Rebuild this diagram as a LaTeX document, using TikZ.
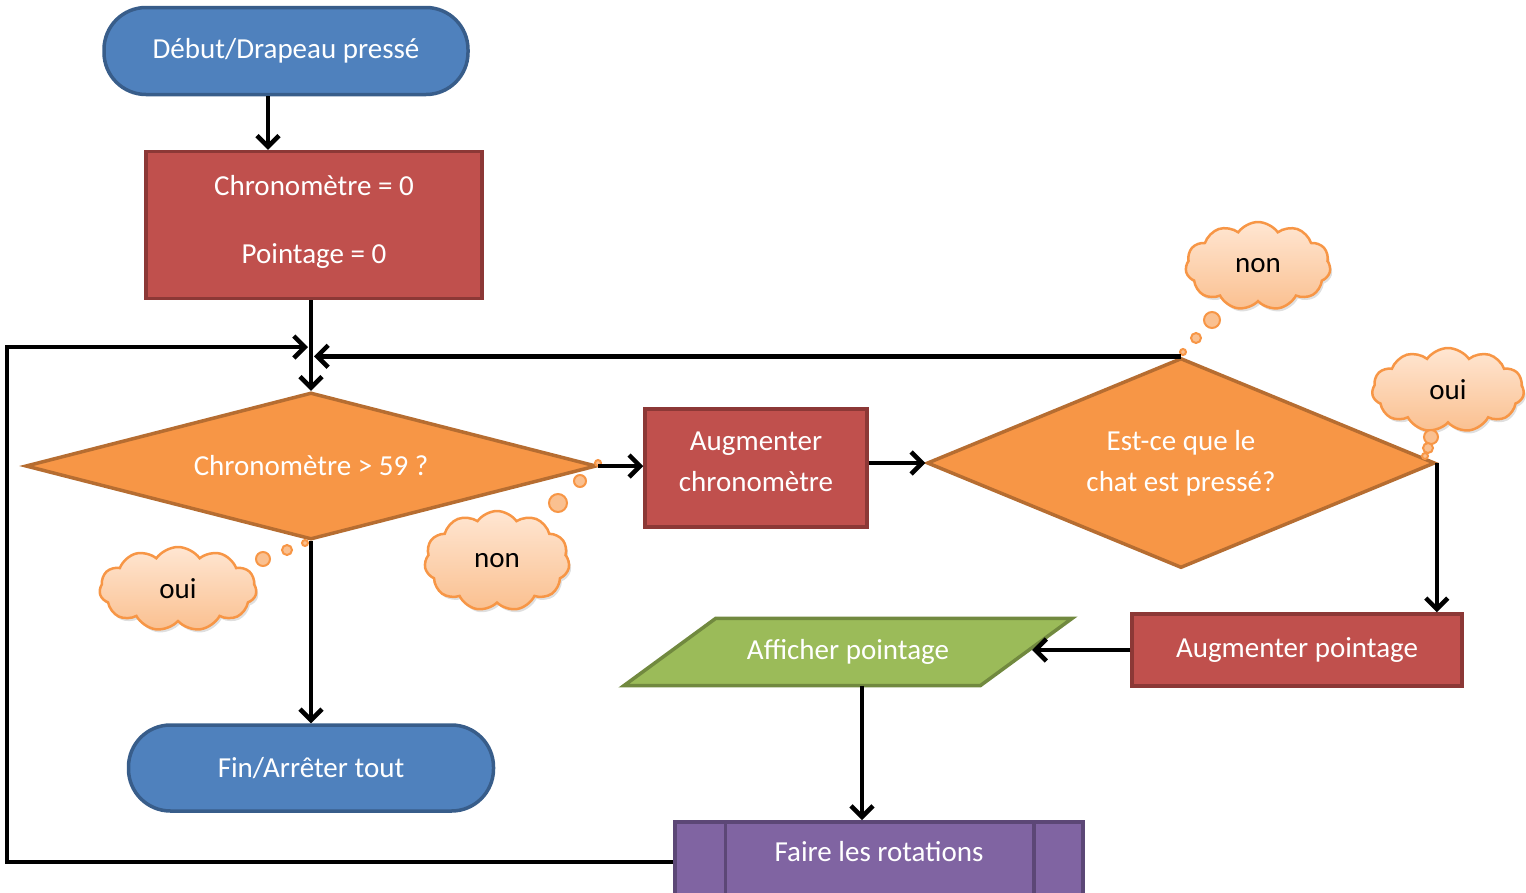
\documentclass[tikz,border=0pt]{standalone}
\usepackage{fontspec}
\setmainfont{Carlito}
\usetikzlibrary{shapes.geometric,shapes.symbols,arrows.meta,calc,shadows,backgrounds}
\definecolor{bleu}{HTML}{4F81BD}
\definecolor{bleub}{HTML}{385D8A}
\definecolor{rouge}{HTML}{C0504D}
\definecolor{rougeb}{HTML}{8C3836}
\definecolor{orange}{HTML}{F79646}
\definecolor{orangeb}{HTML}{B66D31}
\definecolor{vert}{HTML}{9BBB59}
\definecolor{vertb}{HTML}{71893F}
\definecolor{violet}{HTML}{8064A2}
\definecolor{violetb}{HTML}{5C4776}
\definecolor{peche}{HTML}{FFE6D2}
\definecolor{pecheb}{HTML}{FAC090}
\begin{document}
\begin{tikzpicture}[x=1pt,y=-1pt,
  font=\fontsize{29}{35}\selectfont,
  term/.style={draw=bleub, fill=bleu, line width=3.5pt, text=white, rounded corners=42pt},
  box/.style={draw=rougeb, fill=rouge, line width=3.5pt, text=white, align=center},
  choix/.style={diamond, draw=orangeb, fill=orange, line width=3.5pt, text=white, align=center, inner sep=0pt},
  sortie/.style={text=white},
  action/.style={draw=violetb, fill=violet, line width=3.5pt, text=white},
  nuage/.style={cloud, cloud puffs=11, cloud puff arc=110, aspect=1.7, draw=orange, line width=2.5pt, top color=peche, bottom color=pecheb, drop shadow={shadow xshift=2pt, shadow yshift=-3pt, opacity=0.25}},
  bulle/.style={draw=orange, line width=2pt, fill=pecheb},
  arr/.style={line width=4.5pt, -{Straight Barb[length=11pt,width=22pt]}}]
\useasboundingbox (0,0) rectangle (1526,892);

\node[term, minimum width=364pt, minimum height=87pt] (debut) at (286,51) {Début/Drapeau pressé};
\node[box, minimum width=336pt, minimum height=147pt] (init) at (314,225) {Chronomètre = 0\\[33pt]Pointage = 0\\[-23pt]\mbox{}};
\node[choix, aspect=3.88, minimum width=571pt, minimum height=147pt] (test) at (311,466) {Chronomètre > 59 ?};
\node[box, minimum width=222pt, minimum height=118pt] (chrono) at (756,468) {Augmenter\\[6pt]chronomètre\\[-23pt]\mbox{}};
\node[choix, aspect=2.42, minimum width=508pt, minimum height=210pt] (chat) at (1181,463) {Est-ce que le\\[6pt]chat est pressé?};
\node[box, minimum width=330pt, minimum height=72pt] (points) at (1297,650) {Augmenter pointage};
\node[sortie, minimum width=356pt, minimum height=67pt] (affiche) at (848,652) {Afficher pointage};
\begin{scope}[on background layer]
\draw[draw=vertb, fill=vert, line width=3.5pt] ($(affiche.north west)+(46,0)$) -- ($(affiche.north east)+(46,0)$)
  -- ($(affiche.south east)+(-46,0)$) -- ($(affiche.south west)+(-46,0)$) -- cycle;
\end{scope}
\node[term, minimum width=365pt, minimum height=86pt] (fin) at (311,768) {Fin/Arrêter tout};
\node[action, anchor=north, minimum width=408pt, inner ysep=0pt, text height=40pt, text depth=70pt] (rotation) at (879,820) {Faire les rotations};
\draw[violetb, line width=3.5pt] ($(rotation.north west)+(52,0)$) -- ($(rotation.south west)+(52,0)$);
\draw[violetb, line width=3.5pt] ($(rotation.north east)+(-51,0)$) -- ($(rotation.south east)+(-51,0)$);

% bulles
\node[nuage, minimum width=145pt, minimum height=88pt] (nonA) at (1258,266) {non};
\node[nuage, minimum width=152pt, minimum height=84pt] (ouiA) at (1448,390) {oui};
\node[nuage, minimum width=145pt, minimum height=100pt] (nonB) at (497,561) {non};
\node[nuage, minimum width=157pt, minimum height=84pt] (ouiB) at (178,589) {oui};
\foreach \x/\y/\r in {1212/320/8, 1196/338/5, 1183/352/3,
                      1431/437/7, 1428/448/5, 1425/456/3,
                      558/503/9, 580/481/6, 598/463/3,
                      263/559/7, 287/550/5, 305/543/3}
  \draw[bulle] (\x,\y) circle (\r pt);

% fleches
\coordinate (coin) at (7,347);
\draw[arr] ($(debut.south)+(-18,0)$) -- ($(init.north)+(-46,0)$);
\draw[arr] (init.south -| test.north) -- (test.north);
\draw[arr] (test.south) -- (fin.north);
\draw[arr] (test.east) -- (test.east -| chrono.west);
\draw[arr] (chrono.east |- chat.west) -- (chat.west);
\draw[arr] (chat.east) -- (chat.east |- points.north);
\draw[arr] (points.west) -- ($(affiche.east |- points.west)+(6,0)$);
\draw[arr] ($(affiche.south)+(14,0)$) -- ($(rotation.north)+(-17,0)$);
\draw[arr] ($(rotation.north west)+(0,42)$) -| (coin) -- ($(coin -| test.north)+(-3,0)$);
\draw[arr] (chat.north) -- ($(chat.north -| test.north)+(3,0)$);
\end{tikzpicture}
\end{document}
